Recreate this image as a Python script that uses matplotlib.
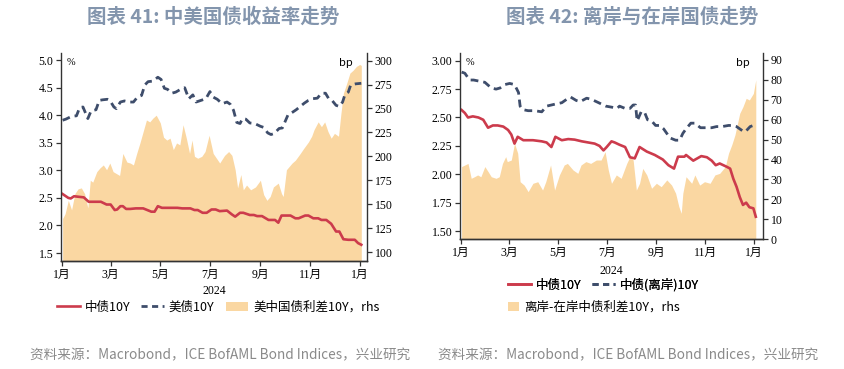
import pandas as pd
import matplotlib
matplotlib.use('Agg')
import matplotlib.pyplot as plt
from matplotlib.lines import Line2D
from matplotlib.patches import Patch

# 字体
plt.rcParams['font.family'] = ['Noto Sans CJK SC', 'DejaVu Sans']
plt.rcParams['axes.unicode_minus'] = False
TICK_FONT = ['Liberation Serif', 'Noto Sans CJK SC']

# ---------------- 图表41 数据 ----------------
us_dates = ['2024-01-02', '2024-01-06', '2024-01-13', '2024-01-19', '2024-01-23', '2024-01-27',
            '2024-02-02', '2024-02-06', '2024-02-12', '2024-02-16', '2024-02-20', '2024-02-26',
            '2024-02-29', '2024-03-05', '2024-03-08', '2024-03-13', '2024-03-18', '2024-03-24',
            '2024-03-29', '2024-04-03', '2024-04-08', '2024-04-12', '2024-04-16', '2024-04-22',
            '2024-04-28', '2024-05-02', '2024-05-06', '2024-05-10', '2024-05-15', '2024-05-20',
            '2024-05-27', '2024-05-31', '2024-06-05', '2024-06-10', '2024-06-14', '2024-06-20',
            '2024-06-26', '2024-07-01', '2024-07-05', '2024-07-10', '2024-07-16', '2024-07-22',
            '2024-07-26', '2024-07-30', '2024-08-03', '2024-08-07', '2024-08-10', '2024-08-14',
            '2024-08-19', '2024-08-25', '2024-09-01', '2024-09-05', '2024-09-10', '2024-09-14',
            '2024-09-18', '2024-09-24', '2024-09-28', '2024-10-05', '2024-10-09', '2024-10-15',
            '2024-10-20', '2024-10-25', '2024-10-30', '2024-11-04', '2024-11-10', '2024-11-15',
            '2024-11-20', '2024-11-24', '2024-11-28', '2024-12-03', '2024-12-07', '2024-12-11',
            '2024-12-14', '2024-12-18', '2024-12-21', '2024-12-27', '2025-01-03']
us_10y = [3.91, 3.93, 3.98, 3.99, 4.14, 4.15,
          3.94, 4.08, 4.10, 4.27, 4.28, 4.29,
          4.27, 4.15, 4.12, 4.24, 4.26, 4.24,
          4.24, 4.33, 4.36, 4.55, 4.61, 4.62,
          4.69, 4.65, 4.49, 4.47, 4.40, 4.42,
          4.48, 4.50, 4.30, 4.37, 4.24, 4.27,
          4.30, 4.43, 4.33, 4.29, 4.21, 4.24,
          4.20, 4.09, 3.87, 3.85, 3.94, 3.93,
          3.86, 3.85, 3.80, 3.78, 3.68, 3.65,
          3.67, 3.76, 3.77, 4.01, 4.04, 4.10,
          4.16, 4.22, 4.27, 4.30, 4.31, 4.40,
          4.40, 4.30, 4.27, 4.18, 4.16, 4.24,
          4.38, 4.42, 4.55, 4.57, 4.58]

cn_dates = ['2024-01-02', '2024-01-09', '2024-01-12', '2024-01-16', '2024-01-22', '2024-01-28',
            '2024-02-03', '2024-02-10', '2024-02-18', '2024-02-25', '2024-03-01', '2024-03-06',
            '2024-03-09', '2024-03-13', '2024-03-16', '2024-03-20', '2024-03-25', '2024-04-01',
            '2024-04-10', '2024-04-20', '2024-04-24', '2024-04-28', '2024-05-03', '2024-05-15',
            '2024-05-22', '2024-05-28', '2024-06-07', '2024-06-12', '2024-06-16', '2024-06-22',
            '2024-06-27', '2024-07-03', '2024-07-08', '2024-07-13', '2024-07-22', '2024-07-28',
            '2024-08-01', '2024-08-07', '2024-08-11', '2024-08-19', '2024-08-24', '2024-08-28',
            '2024-09-03', '2024-09-11', '2024-09-19', '2024-09-23', '2024-09-27', '2024-10-08',
            '2024-10-14', '2024-10-18', '2024-10-26', '2024-10-30', '2024-11-05', '2024-11-11',
            '2024-11-15', '2024-11-21', '2024-11-27', '2024-12-03', '2024-12-07', '2024-12-12',
            '2024-12-18', '2024-12-26', '2024-12-30', '2025-01-03']
cn_10y = [2.57, 2.50, 2.49, 2.53, 2.52, 2.51,
          2.43, 2.43, 2.43, 2.38, 2.38, 2.28,
          2.29, 2.35, 2.35, 2.30, 2.30, 2.31,
          2.31, 2.25, 2.25, 2.35, 2.32, 2.32,
          2.32, 2.31, 2.31, 2.28, 2.28, 2.23,
          2.23, 2.29, 2.29, 2.26, 2.27, 2.20,
          2.16, 2.23, 2.23, 2.19, 2.19, 2.17,
          2.17, 2.10, 2.10, 2.05, 2.18, 2.18,
          2.13, 2.13, 2.18, 2.18, 2.13, 2.13,
          2.10, 2.10, 2.03, 1.89, 1.89, 1.75,
          1.74, 1.74, 1.68, 1.65]

sp1_dates = ['2024-01-02', '2024-01-05', '2024-01-09', '2024-01-13', '2024-01-17', '2024-01-21',
             '2024-01-25', '2024-01-29', '2024-02-02', '2024-02-05', '2024-02-08', '2024-02-13',
             '2024-02-17', '2024-02-21', '2024-02-25', '2024-02-29', '2024-03-04', '2024-03-08',
             '2024-03-12', '2024-03-16', '2024-03-21', '2024-03-25', '2024-03-29', '2024-04-02',
             '2024-04-06', '2024-04-10', '2024-04-14', '2024-04-18', '2024-04-22', '2024-04-26',
             '2024-05-01', '2024-05-05', '2024-05-09', '2024-05-13', '2024-05-17', '2024-05-21',
             '2024-05-25', '2024-05-29', '2024-06-02', '2024-06-06', '2024-06-09', '2024-06-12',
             '2024-06-16', '2024-06-21', '2024-06-25', '2024-06-30', '2024-07-05', '2024-07-09',
             '2024-07-13', '2024-07-19', '2024-07-24', '2024-07-28', '2024-08-01', '2024-08-04',
             '2024-08-08', '2024-08-11', '2024-08-15', '2024-08-20', '2024-08-26', '2024-09-01',
             '2024-09-05', '2024-09-09', '2024-09-13', '2024-09-17', '2024-09-23', '2024-09-27',
             '2024-09-29', '2024-10-03', '2024-10-10', '2024-10-14', '2024-10-20', '2024-10-24',
             '2024-10-30', '2024-11-03', '2024-11-06', '2024-11-11', '2024-11-15', '2024-11-19',
             '2024-11-23', '2024-11-27', '2024-12-01', '2024-12-06', '2024-12-09', '2024-12-12',
             '2024-12-16', '2024-12-20', '2024-12-24', '2024-12-28', '2025-01-01', '2025-01-03']
spread_us_cn = [135, 140, 154, 144, 161, 166,
                167, 161, 146, 175, 173, 184,
                188, 191, 186, 193, 184, 182,
                180, 203, 194, 193, 191, 203,
                214, 226, 238, 236, 240, 243,
                235, 220, 217, 219, 207, 214,
                212, 233, 219, 203, 217, 200,
                198, 200, 205, 222, 203, 198,
                193, 201, 205, 201, 186, 167,
                181, 165, 170, 165, 168, 175,
                160, 154, 158, 168, 172, 161,
                158, 186, 193, 196, 203, 208,
                215, 221, 228, 236, 231, 236,
                226, 219, 224, 221, 245, 266,
                276, 287, 290, 294, 296, 295]

# ---------------- 图表42 数据 ----------------
off_dates = ['2024-01-02', '2024-01-06', '2024-01-12', '2024-01-17', '2024-01-24', '2024-01-31',
             '2024-02-08', '2024-02-14', '2024-02-19', '2024-02-25', '2024-03-02', '2024-03-08',
             '2024-03-13', '2024-03-15', '2024-03-18', '2024-03-25', '2024-04-02', '2024-04-11',
             '2024-04-17', '2024-04-23', '2024-04-29', '2024-05-06', '2024-05-12', '2024-05-17',
             '2024-05-24', '2024-05-29', '2024-06-06', '2024-06-12', '2024-06-18', '2024-06-24',
             '2024-06-30', '2024-07-08', '2024-07-14', '2024-07-17', '2024-07-24', '2024-07-30',
             '2024-08-03', '2024-08-06', '2024-08-08', '2024-08-13', '2024-08-17', '2024-08-21',
             '2024-08-26', '2024-08-31', '2024-09-05', '2024-09-10', '2024-09-15', '2024-09-18',
             '2024-09-25', '2024-09-30', '2024-10-04', '2024-10-08', '2024-10-14', '2024-10-19',
             '2024-10-26', '2024-11-02', '2024-11-09', '2024-11-15', '2024-11-22', '2024-11-30',
             '2024-12-05', '2024-12-10', '2024-12-14', '2024-12-18', '2024-12-21', '2024-12-27',
             '2024-12-31', '2025-01-03']
off_10y = [2.90, 2.89, 2.83, 2.83, 2.82, 2.81,
           2.76, 2.75, 2.76, 2.79, 2.80, 2.79,
           2.72, 2.60, 2.57, 2.56, 2.56, 2.55,
           2.60, 2.61, 2.62, 2.63, 2.66, 2.68,
           2.65, 2.64, 2.67, 2.66, 2.64, 2.62,
           2.60, 2.59, 2.58, 2.60, 2.58, 2.58,
           2.61, 2.61, 2.47, 2.55, 2.55, 2.48,
           2.47, 2.43, 2.43, 2.40, 2.35, 2.32,
           2.30, 2.30, 2.36, 2.40, 2.45, 2.45,
           2.41, 2.41, 2.41, 2.42, 2.42, 2.43,
           2.43, 2.42, 2.40, 2.38, 2.375, 2.42,
           2.43, 2.42]

on_dates = ['2024-01-02', '2024-01-06', '2024-01-10', '2024-01-16', '2024-01-23', '2024-01-29',
            '2024-02-04', '2024-02-10', '2024-02-16', '2024-02-23', '2024-02-29', '2024-03-04',
            '2024-03-08', '2024-03-12', '2024-03-19', '2024-03-31', '2024-04-11', '2024-04-17',
            '2024-04-23', '2024-04-28', '2024-05-06', '2024-05-14', '2024-05-22', '2024-05-31',
            '2024-06-08', '2024-06-16', '2024-06-22', '2024-06-27', '2024-07-01', '2024-07-07',
            '2024-07-11', '2024-07-17', '2024-07-24', '2024-07-30', '2024-08-05', '2024-08-11',
            '2024-08-20', '2024-08-30', '2024-09-09', '2024-09-16', '2024-09-23', '2024-09-28',
            '2024-10-06', '2024-10-08', '2024-10-17', '2024-10-27', '2024-11-03', '2024-11-09',
            '2024-11-14', '2024-11-19', '2024-11-28', '2024-12-02', '2024-12-06', '2024-12-10',
            '2024-12-14', '2024-12-18', '2024-12-22', '2024-12-26', '2024-12-31', '2025-01-03']
on_10y = [2.566, 2.54, 2.50, 2.51, 2.50, 2.48,
          2.41, 2.43, 2.43, 2.42, 2.39, 2.35,
          2.27, 2.33, 2.30, 2.30, 2.29, 2.28,
          2.24, 2.33, 2.30, 2.31, 2.305, 2.29,
          2.28, 2.27, 2.25, 2.21, 2.24, 2.29,
          2.28, 2.26, 2.24, 2.15, 2.14, 2.24,
          2.20, 2.17, 2.13, 2.08, 2.05, 2.155,
          2.155, 2.17, 2.12, 2.16, 2.15, 2.12,
          2.08, 2.095, 2.065, 2.05, 1.96, 1.89,
          1.80, 1.73, 1.75, 1.71, 1.70, 1.626]

sp2_dates = ['2024-01-02', '2024-01-06', '2024-01-10', '2024-01-14', '2024-01-18', '2024-01-22',
             '2024-01-26', '2024-01-31', '2024-02-04', '2024-02-08', '2024-02-14', '2024-02-18',
             '2024-02-22', '2024-02-26', '2024-02-28', '2024-03-04', '2024-03-08', '2024-03-12',
             '2024-03-15', '2024-03-20', '2024-03-25', '2024-03-31', '2024-04-06', '2024-04-12',
             '2024-04-16', '2024-04-22', '2024-04-27', '2024-05-03', '2024-05-09', '2024-05-13',
             '2024-05-20', '2024-05-26', '2024-05-30', '2024-06-05', '2024-06-11', '2024-06-18',
             '2024-06-24', '2024-06-29', '2024-07-03', '2024-07-07', '2024-07-13', '2024-07-19',
             '2024-07-26', '2024-07-30', '2024-08-03', '2024-08-07', '2024-08-11', '2024-08-15',
             '2024-08-20', '2024-08-26', '2024-09-01', '2024-09-07', '2024-09-14', '2024-09-20',
             '2024-09-25', '2024-09-29', '2024-10-02', '2024-10-04', '2024-10-08', '2024-10-15',
             '2024-10-19', '2024-10-25', '2024-10-31', '2024-11-07', '2024-11-13', '2024-11-19',
             '2024-11-26', '2024-11-30', '2024-12-04', '2024-12-08', '2024-12-14', '2024-12-18',
             '2024-12-22', '2024-12-26', '2024-12-31', '2025-01-03']
spread_off_on = [36.4, 37.2, 38.0, 30.5, 31.3, 32.2,
                 31.3, 36.4, 33.9, 31.3, 30.5, 31.3,
                 38.0, 41.4, 38.9, 39.7, 48.1, 43.1,
                 28.8, 27.1, 23.8, 28.0, 28.8, 24.6,
                 28.8, 37.2, 24.6, 32.2, 37.2, 38.0,
                 34.7, 33.0, 37.2, 38.9, 38.0, 39.7,
                 39.7, 43.9, 34.7, 28.0, 32.2, 30.5,
                 38.0, 41.4, 39.7, 24.6, 28.0, 35.5,
                 32.2, 25.5, 28.0, 26.3, 29.7, 27.1,
                 23.0, 16.3, 12.9, 23.0, 31.3, 28.0,
                 32.2, 27.1, 28.8, 28.0, 32.2, 33.0,
                 36.4, 43.1, 47.3, 52.3, 63.2, 66.5,
                 70.7, 69.9, 73.2, 80.0]

month_ticks = ['2024-01-01', '2024-03-01', '2024-05-01', '2024-07-01',
               '2024-09-01', '2024-11-01', '2025-01-01']
month_labels = ['1月', '3月', '5月', '7月', '9月', '11月', '1月']

RED = '#cc3b4c'
NAVY = '#3e4d6b'
FILL = '#fad7a2'
SPINE = '#333333'


def style_axes(ax, ax2):
    ax.set_zorder(ax2.get_zorder() + 1)
    ax.patch.set_visible(False)
    for a in (ax, ax2):
        a.spines['top'].set_visible(False)
        for s in a.spines.values():
            s.set_color(SPINE)
            s.set_linewidth(1.0)
        a.tick_params(direction='out', length=3.5, width=0.9, color=SPINE, pad=2)
    ax.spines['right'].set_visible(False)
    ax2.spines['left'].set_visible(False)
    ax.set_xticks(pd.to_datetime(month_ticks))
    ax.set_xticklabels(month_labels, family=TICK_FONT, fontsize=8.5)
    for lab in ax.get_yticklabels() + ax2.get_yticklabels():
        lab.set_family(TICK_FONT)
        lab.set_fontsize(8.5)
    ax.set_xlim(pd.Timestamp('2023-12-31'), pd.Timestamp('2025-01-10'))


fig = plt.figure(figsize=(8.45, 3.69), dpi=100)

# ---------------- 图表41 ----------------
ax1 = fig.add_axes([61 / 845, 108 / 369, 306 / 845, 208 / 369])
ax1r = ax1.twinx()
ax1r.fill_between(pd.to_datetime(sp1_dates), 0, spread_us_cn, color=FILL, lw=0)
ax1.plot(pd.to_datetime(cn_dates), cn_10y, color=RED, lw=1.9)
ax1.plot(pd.to_datetime(us_dates), us_10y, color=NAVY, lw=2.0, dashes=(2.8, 1.8))
ax1.set_ylim(1.355, 5.13)
ax1.set_yticks([1.5, 2.0, 2.5, 3.0, 3.5, 4.0, 4.5, 5.0])
ax1.set_yticklabels(['%.1f' % v for v in ax1.get_yticks()])
ax1r.set_ylim(90.6, 308)
ax1r.set_yticks(range(100, 301, 25))
style_axes(ax1, ax1r)
ax1.text(0.02, 0.975, '%', transform=ax1.transAxes, fontsize=7.5, va='top', family=TICK_FONT)
ax1r.text(0.955, 0.975, 'bp', transform=ax1.transAxes, fontsize=8, va='top', ha='right')
ax1.text(0.5, -0.144, '2024', transform=ax1.transAxes, ha='center', va='center',
         fontsize=8.5, family=TICK_FONT)

h1 = [Line2D([], [], color=RED, lw=1.9),
      Line2D([], [], color=NAVY, lw=2.0, dashes=(2.2, 1.6)),
      Patch(facecolor=FILL, edgecolor='none')]
fig.legend(h1, ['中债10Y', '美债10Y', '美中国债利差10Y，rhs'], loc='center left',
           bbox_to_anchor=(57 / 845, 1 - 307 / 369), ncol=3, frameon=False,
           fontsize=9, handlelength=1.8, handletextpad=0.4, columnspacing=0.9,
           borderpad=0, borderaxespad=0)

# ---------------- 图表42 ----------------
ax2 = fig.add_axes([460 / 845, 130 / 369, 303 / 845, 186 / 369])
ax2r = ax2.twinx()
ax2r.fill_between(pd.to_datetime(sp2_dates), 0, spread_off_on, color=FILL, lw=0)
ax2.plot(pd.to_datetime(on_dates), on_10y, color=RED, lw=1.9)
ax2.plot(pd.to_datetime(off_dates), off_10y, color=NAVY, lw=2.0, dashes=(2.8, 1.8))
ax2.set_ylim(1.43, 3.068)
ax2.set_yticks([1.5, 1.75, 2.0, 2.25, 2.5, 2.75, 3.0])
ax2.set_yticklabels(['%.2f' % v for v in ax2.get_yticks()])
ax2r.set_ylim(0, 93.5)
ax2r.set_yticks(range(0, 91, 10))
style_axes(ax2, ax2r)
ax2.set_xlim(pd.Timestamp('2023-12-31'), pd.Timestamp('2025-01-12'))
ax2.text(0.02, 0.975, '%', transform=ax2.transAxes, fontsize=7.5, va='top', family=TICK_FONT)
ax2.text(0.955, 0.975, 'bp', transform=ax2.transAxes, fontsize=8, va='top', ha='right')
ax2.text(0.5, -0.17, '2024', transform=ax2.transAxes, ha='center', va='center',
         fontsize=8.5, family=TICK_FONT)

leg_a = fig.legend([Line2D([], [], color=RED, lw=1.9),
                    Line2D([], [], color=NAVY, lw=2.0, dashes=(2.2, 1.6))],
                   ['中债10Y', '中债(离岸)10Y'], loc='center left',
                   bbox_to_anchor=(508 / 845, 1 - 285 / 369), ncol=2, frameon=False,
                   fontsize=9, handlelength=1.8, handletextpad=0.4, columnspacing=0.9,
                   borderpad=0, borderaxespad=0)
fig.legend([Patch(facecolor=FILL, edgecolor='none')], ['离岸-在岸中债利差10Y，rhs'],
           loc='center left', bbox_to_anchor=(508 / 845, 1 - 307 / 369), frameon=False,
           fontsize=9, handlelength=0.9, handletextpad=0.4,
           borderpad=0, borderaxespad=0)
fig.add_artist(leg_a)

# 标题与来源
TITLE_C = '#8395ad'
fig.text(213 / 845, 1 - 17 / 369, '图表 41: 中美国债收益率走势', ha='center', va='center',
         fontsize=14, fontweight='bold', color=TITLE_C)
fig.text(632 / 845, 1 - 17 / 369, '图表 42: 离岸与在岸国债走势', ha='center', va='center',
         fontsize=14, fontweight='bold', color=TITLE_C)
src = '资料来源：Macrobond，ICE BofAML Bond Indices，兴业研究'
fig.text(30 / 845, 1 - 355 / 369, src, ha='left', va='center', fontsize=9.8, color='#8a8a8a')
fig.text(438 / 845, 1 - 355 / 369, src, ha='left', va='center', fontsize=9.8, color='#8a8a8a')

fig.savefig('out.png', dpi=100)
